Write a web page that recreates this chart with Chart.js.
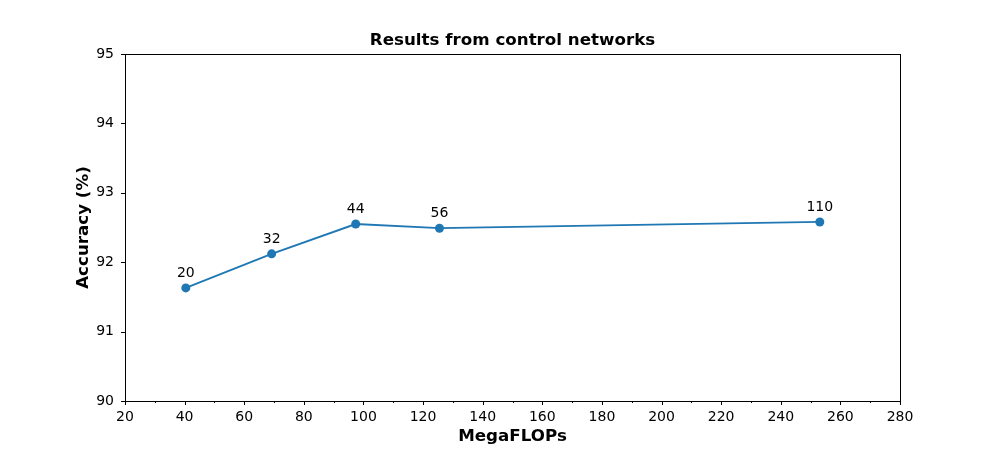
<!DOCTYPE html>
<html>
<head>
<meta charset="utf-8">
<script src="https://cdn.jsdelivr.net/npm/chart.js@4/dist/chart.umd.min.js"></script>
<style>
  html, body { margin: 0; padding: 0; background: #fff; }
  #wrap { width: 1000px; height: 450px; position: relative; }
</style>
</head>
<body>
<div id="wrap"><canvas id="chart"></canvas></div>
<script>
// data
const depths    = ['20', '32', '44', '56', '110'];
const megaflops = [40.4, 69.2, 97.4, 125.5, 253.1];
const accuracy  = [91.63, 92.12, 92.55, 92.49, 92.58];
const xTicks    = [20, 40, 60, 80, 100, 120, 140, 160, 180, 200, 220, 240, 260, 280];
const xMinor    = [30, 50, 70, 90, 110, 130, 150, 170, 190, 210, 230, 250, 270];
const yTicks    = [90, 91, 92, 93, 94, 95];

const FONT = "'DejaVu Sans', sans-serif";
const BLUE = '#1f77b4';

// frame, ticks, titles and point labels drawn like matplotlib
const mplDecor = {
  id: 'mplDecor',
  afterDraw(chart) {
    const { ctx, chartArea: a, scales: { x, y } } = chart;
    ctx.save();
    ctx.strokeStyle = '#000';
    ctx.lineWidth = 1;
    ctx.strokeRect(Math.round(a.left) + 0.5, Math.round(a.top) + 0.5,
                   Math.round(a.right - a.left), Math.round(a.bottom - a.top));

    ctx.beginPath();
    xTicks.forEach(v => {
      const px = Math.round(x.getPixelForValue(v)) + 0.5;
      ctx.moveTo(px, a.bottom); ctx.lineTo(px, a.bottom + 4);
    });
    xMinor.forEach(v => {
      const px = Math.round(x.getPixelForValue(v)) + 0.5;
      ctx.moveTo(px, a.bottom); ctx.lineTo(px, a.bottom + 2);
    });
    yTicks.forEach(v => {
      const py = Math.round(y.getPixelForValue(v)) + 0.5;
      ctx.moveTo(a.left, py); ctx.lineTo(a.left - 4, py);
    });
    ctx.stroke();

    // point labels
    ctx.fillStyle = '#000';
    ctx.font = `14px ${FONT}`;
    ctx.textAlign = 'center';
    ctx.textBaseline = 'bottom';
    depths.forEach((d, i) => {
      ctx.fillText(d, x.getPixelForValue(megaflops[i]), y.getPixelForValue(accuracy[i]) - 8);
    });

    // title
    ctx.font = `bold 16.7px ${FONT}`;
    ctx.textBaseline = 'middle';
    ctx.fillText('Results from control networks', (a.left + a.right) / 2, 41);

    // axis titles
    ctx.fillText('MegaFLOPs', (a.left + a.right) / 2, 437);
    ctx.translate(84, (a.top + a.bottom) / 2);
    ctx.rotate(-Math.PI / 2);
    ctx.fillText('Accuracy (%)', 0, 0);
    ctx.restore();
  }
};

new Chart(document.getElementById('chart'), {
  type: 'line',
  data: {
    datasets: [{
      data: megaflops.map((v, i) => ({ x: v, y: accuracy[i] })),
      borderColor: BLUE,
      backgroundColor: BLUE,
      borderWidth: 1.8,
      pointRadius: 4.5,
      pointHoverRadius: 4.5,
      pointBorderWidth: 0,
      tension: 0
    }]
  },
  options: {
    responsive: true,
    maintainAspectRatio: false,
    animation: false,
    events: [],
    layout: { padding: { left: 0, right: 100, top: 54, bottom: 0 } },
    plugins: { legend: { display: false }, title: { display: false }, tooltip: { enabled: false } },
    scales: {
      x: {
        type: 'linear',
        min: 20, max: 280,
        afterBuildTicks: s => { s.ticks = xTicks.map(v => ({ value: v })); },
        afterFit: s => { s.height = 49; },
        grid: { display: false },
        border: { display: false },
        ticks: { color: '#000', padding: 0, maxRotation: 0, font: { family: FONT, size: 14 } }
      },
      y: {
        min: 90, max: 95,
        afterBuildTicks: s => { s.ticks = yTicks.map(v => ({ value: v })); },
        afterFit: s => { s.width = 125; },
        grid: { display: false },
        border: { display: false },
        ticks: { color: '#000', padding: 3, font: { family: FONT, size: 14 } }
      }
    }
  },
  plugins: [mplDecor]
});
</script>
</body>
</html>
